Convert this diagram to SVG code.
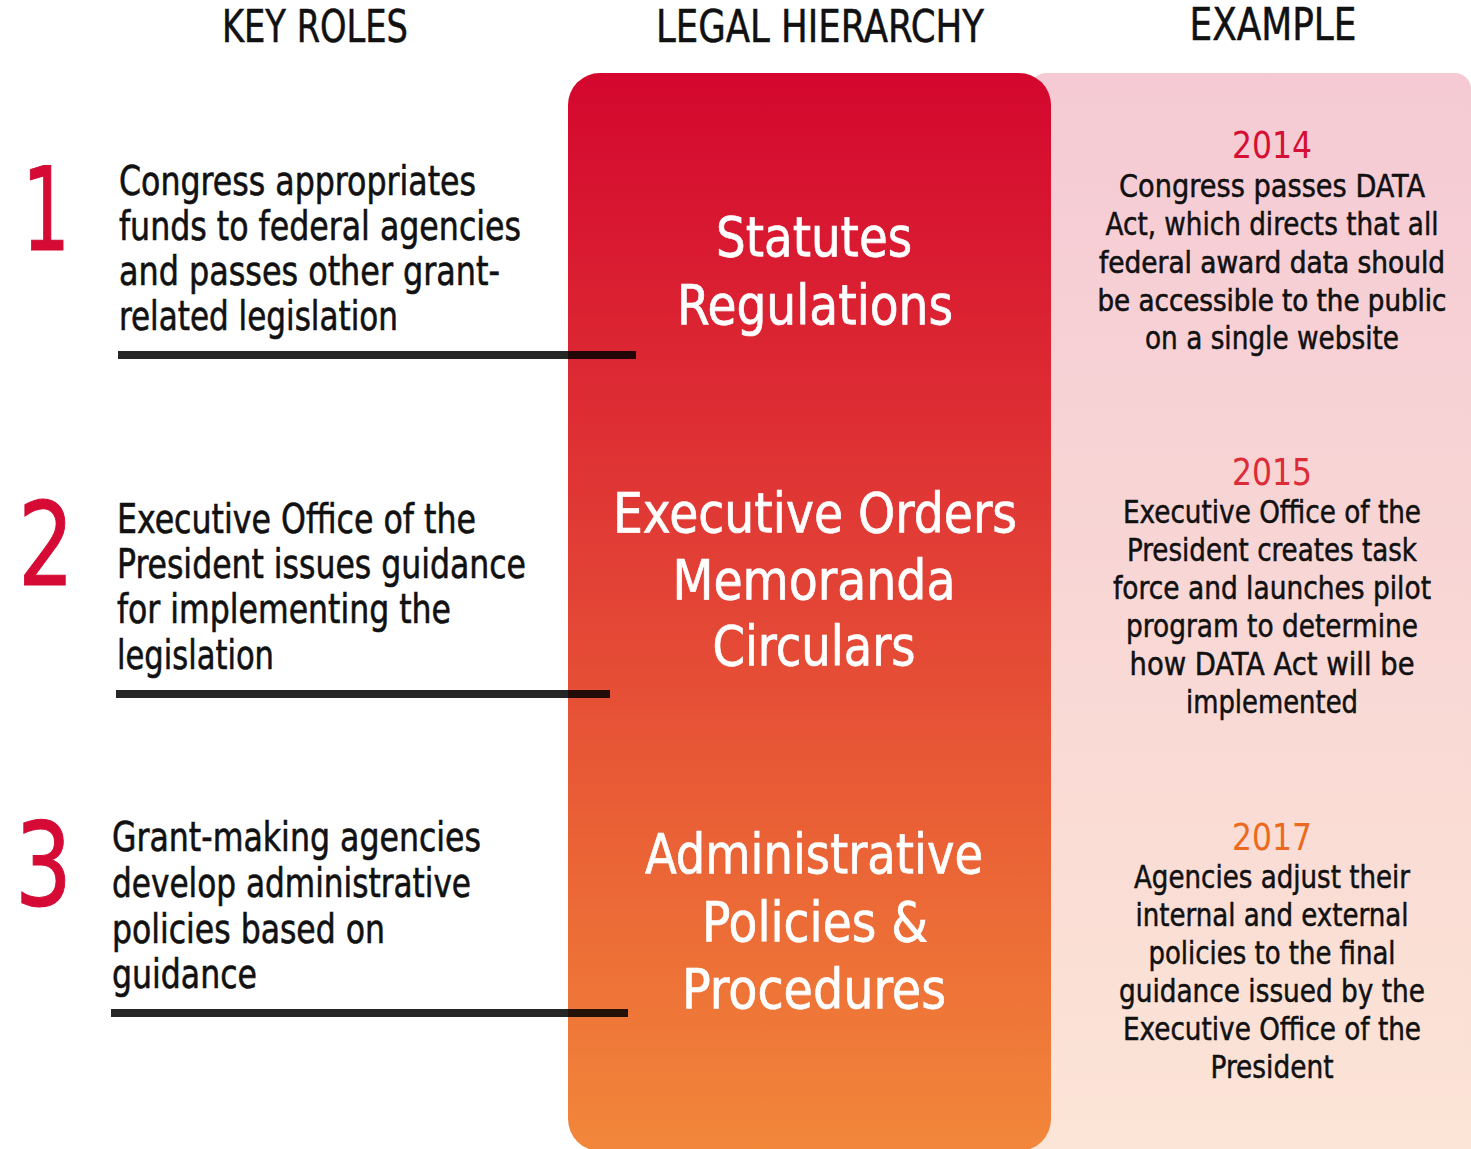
<svg xmlns="http://www.w3.org/2000/svg" width="1471" height="1149" viewBox="0 0 1471 1149">
  <defs>
    <linearGradient id="gCol" x1="0" y1="0" x2="0" y2="1">
      <stop offset="0" stop-color="#d4062e"/>
      <stop offset="0.4" stop-color="#e03835"/>
      <stop offset="0.75" stop-color="#eb6736"/>
      <stop offset="1" stop-color="#f2873a"/>
    </linearGradient>
    <linearGradient id="gPink" x1="0" y1="0" x2="0" y2="1">
      <stop offset="0" stop-color="#f5cad4"/>
      <stop offset="1" stop-color="#fce5d6"/>
    </linearGradient>
    <style>
      text { font-family: "DejaVu Sans Condensed", "DejaVu Sans", "Liberation Sans", sans-serif; font-stretch: condensed; }
      .hdr { font-size: 44px; fill: #111; text-anchor: middle; stroke: #111; stroke-width: 0.5; }
      .num { font-size: 116px; fill: #d50b35; stroke: #d50b35; stroke-width: 1; }
      .role { font-size: 41px; fill: #111; stroke: #111; stroke-width: 0.6; }
      .mid { font-size: 56px; fill: #fff; stroke: #fff; stroke-width: 0.7; text-anchor: middle; }
      .ex { font-size: 32px; fill: #111; stroke: #111; stroke-width: 0.5; text-anchor: middle; }
      .exw { font-size: 30px; stroke-width: 0.6; }
      .yr { font-size: 37px; text-anchor: middle; }
      .rule { stroke: #000; stroke-opacity: 0.85; stroke-width: 8; fill: none; }
    </style>
  </defs>
  <rect width="1471" height="1149" fill="#fff"/>

  <g id="headers">
    <text class="hdr" x="315" y="42" textLength="186" lengthAdjust="spacingAndGlyphs">KEY ROLES</text>
    <text class="hdr" x="820" y="42" textLength="328" lengthAdjust="spacingAndGlyphs">LEGAL HIERARCHY</text>
    <text class="hdr" x="1273" y="40" textLength="167" lengthAdjust="spacingAndGlyphs">EXAMPLE</text>
  </g>

  <g id="example-panel">
    <rect x="1030" y="73" width="441" height="1110" rx="16" fill="url(#gPink)"/>
  </g>

  <g id="hierarchy-column">
    <rect x="568" y="73" width="483" height="1078" rx="32" fill="url(#gCol)"/>
  </g>

  <g id="tier1-hierarchy">
    <text class="mid" x="814" y="256" textLength="196" lengthAdjust="spacingAndGlyphs">Statutes</text>
    <text class="mid" x="815" y="324" textLength="276" lengthAdjust="spacingAndGlyphs">Regulations</text>
  </g>
  <g id="tier2-hierarchy">
    <text class="mid" x="815" y="532" textLength="404" lengthAdjust="spacingAndGlyphs">Executive Orders</text>
    <text class="mid" x="814" y="599" textLength="283" lengthAdjust="spacingAndGlyphs">Memoranda</text>
    <text class="mid" x="814" y="665" textLength="203" lengthAdjust="spacingAndGlyphs">Circulars</text>
  </g>
  <g id="tier3-hierarchy">
    <text class="mid" x="814" y="873" textLength="338" lengthAdjust="spacingAndGlyphs">Administrative</text>
    <text class="mid" x="815" y="941" textLength="226" lengthAdjust="spacingAndGlyphs">Policies &amp;</text>
    <text class="mid" x="814" y="1008" textLength="264" lengthAdjust="spacingAndGlyphs">Procedures</text>
  </g>

  <g id="role1">
    <text class="num" x="22" y="250" textLength="48" lengthAdjust="spacingAndGlyphs">1</text>
    <text class="role" x="119" y="195" textLength="357" lengthAdjust="spacingAndGlyphs">Congress appropriates</text>
    <text class="role" x="119" y="240" textLength="402" lengthAdjust="spacingAndGlyphs">funds to federal agencies</text>
    <text class="role" x="119" y="285" textLength="381" lengthAdjust="spacingAndGlyphs">and passes other grant-</text>
    <text class="role" x="119" y="330" textLength="279" lengthAdjust="spacingAndGlyphs">related legislation</text>
  </g>
  <g id="role2">
    <text class="num" x="18" y="585" textLength="56" lengthAdjust="spacingAndGlyphs">2</text>
    <text class="role" x="117" y="533" textLength="359" lengthAdjust="spacingAndGlyphs">Executive Office of the</text>
    <text class="role" x="117" y="578" textLength="409" lengthAdjust="spacingAndGlyphs">President issues guidance</text>
    <text class="role" x="117" y="623" textLength="334" lengthAdjust="spacingAndGlyphs">for implementing the</text>
    <text class="role" x="117" y="669" textLength="157" lengthAdjust="spacingAndGlyphs">legislation</text>
  </g>
  <g id="role3">
    <text class="num" x="15" y="905" textLength="57" lengthAdjust="spacingAndGlyphs">3</text>
    <text class="role" x="112" y="851" textLength="369" lengthAdjust="spacingAndGlyphs">Grant-making agencies</text>
    <text class="role" x="112" y="897" textLength="359" lengthAdjust="spacingAndGlyphs">develop administrative</text>
    <text class="role" x="112" y="943" textLength="273" lengthAdjust="spacingAndGlyphs">policies based on</text>
    <text class="role" x="112" y="988" textLength="145" lengthAdjust="spacingAndGlyphs">guidance</text>
  </g>

  <g id="example1">
    <text class="yr" x="1272" y="158" fill="#d50f35" textLength="80" lengthAdjust="spacingAndGlyphs">2014</text>
    <text class="ex" x="1272" y="197" textLength="306" lengthAdjust="spacingAndGlyphs">Congress passes DATA</text>
    <text class="ex" x="1272" y="235" textLength="333" lengthAdjust="spacingAndGlyphs">Act, which directs that all</text>
    <text class="ex exw" x="1272" y="273" textLength="346" lengthAdjust="spacingAndGlyphs">federal award data should</text>
    <text class="ex exw" x="1272" y="311" textLength="349" lengthAdjust="spacingAndGlyphs">be accessible to the public</text>
    <text class="ex" x="1272" y="349" textLength="254" lengthAdjust="spacingAndGlyphs">on a single website</text>
  </g>
  <g id="example2">
    <text class="yr" x="1272" y="485" fill="#dd2b37" textLength="80" lengthAdjust="spacingAndGlyphs">2015</text>
    <text class="ex" x="1272" y="523" textLength="298" lengthAdjust="spacingAndGlyphs">Executive Office of the</text>
    <text class="ex" x="1272" y="561" textLength="290" lengthAdjust="spacingAndGlyphs">President creates task</text>
    <text class="ex" x="1272" y="599" textLength="318" lengthAdjust="spacingAndGlyphs">force and launches pilot</text>
    <text class="ex" x="1272" y="637" textLength="292" lengthAdjust="spacingAndGlyphs">program to determine</text>
    <text class="ex" x="1272" y="675" textLength="285" lengthAdjust="spacingAndGlyphs">how DATA Act will be</text>
    <text class="ex" x="1272" y="713" textLength="172" lengthAdjust="spacingAndGlyphs">implemented</text>
  </g>
  <g id="example3">
    <text class="yr" x="1272" y="850" fill="#ec6a1e" textLength="80" lengthAdjust="spacingAndGlyphs">2017</text>
    <text class="ex" x="1272" y="888" textLength="276" lengthAdjust="spacingAndGlyphs">Agencies adjust their</text>
    <text class="ex" x="1272" y="926" textLength="273" lengthAdjust="spacingAndGlyphs">internal and external</text>
    <text class="ex" x="1272" y="964" textLength="247" lengthAdjust="spacingAndGlyphs">policies to the final</text>
    <text class="ex" x="1272" y="1002" textLength="306" lengthAdjust="spacingAndGlyphs">guidance issued by the</text>
    <text class="ex" x="1272" y="1040" textLength="298" lengthAdjust="spacingAndGlyphs">Executive Office of the</text>
    <text class="ex" x="1272" y="1078" textLength="123" lengthAdjust="spacingAndGlyphs">President</text>
  </g>

  <g id="connectors">
    <line class="rule" x1="118" y1="355" x2="636" y2="355"/>
    <line class="rule" x1="116" y1="694" x2="610" y2="694"/>
    <line class="rule" x1="111" y1="1013" x2="628" y2="1013"/>
  </g>
</svg>
